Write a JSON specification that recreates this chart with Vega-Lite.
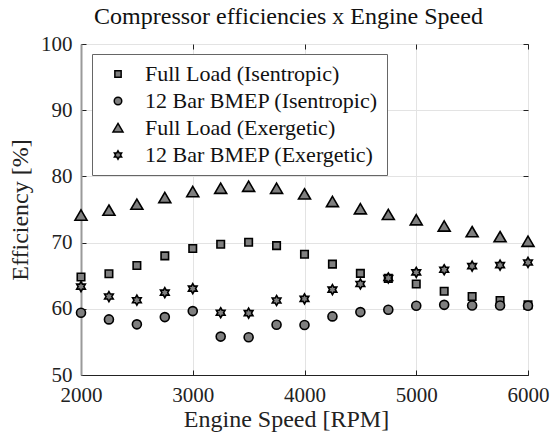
{
  "$schema": "https://vega.github.io/schema/vega-lite/v6.json",
  "autosize": {"type": "none"},
  "width": 447,
  "height": 331,
  "padding": {"left": 81, "top": 44, "right": 22, "bottom": 60},
  "background": "white",
  "title": {
    "text": "Compressor efficiencies x Engine Speed",
    "font": "Liberation Serif",
    "fontSize": 24,
    "fontWeight": "normal",
    "color": "#111",
    "anchor": "middle",
    "offset": 4,
    "dx": -16
  },
  "config": {
    "view": {"stroke": "#222", "strokeWidth": 1},
    "axis": {
      "labelFont": "Liberation Serif",
      "labelFontSize": 21,
      "labelColor": "#222",
      "titleFont": "Liberation Serif",
      "titleFontSize": 24,
      "titleFontWeight": "normal",
      "titleColor": "#222",
      "gridColor": "#e3e3e3",
      "gridWidth": 1,
      "domainColor": "#222",
      "tickColor": "#222",
      "tickSize": -5,
      "labelFlush": false
    }
  },
  "data": {
    "values": [
      {"rpm": 2000, "eff": 64.8, "series": "Full Load (Isentropic)"},
      {"rpm": 2250, "eff": 65.3, "series": "Full Load (Isentropic)"},
      {"rpm": 2500, "eff": 66.55, "series": "Full Load (Isentropic)"},
      {"rpm": 2750, "eff": 68.0, "series": "Full Load (Isentropic)"},
      {"rpm": 3000, "eff": 69.1, "series": "Full Load (Isentropic)"},
      {"rpm": 3250, "eff": 69.75, "series": "Full Load (Isentropic)"},
      {"rpm": 3500, "eff": 70.05, "series": "Full Load (Isentropic)"},
      {"rpm": 3750, "eff": 69.55, "series": "Full Load (Isentropic)"},
      {"rpm": 4000, "eff": 68.25, "series": "Full Load (Isentropic)"},
      {"rpm": 4250, "eff": 66.75, "series": "Full Load (Isentropic)"},
      {"rpm": 4500, "eff": 65.35, "series": "Full Load (Isentropic)"},
      {"rpm": 4750, "eff": 64.6, "series": "Full Load (Isentropic)"},
      {"rpm": 5000, "eff": 63.75, "series": "Full Load (Isentropic)"},
      {"rpm": 5250, "eff": 62.65, "series": "Full Load (Isentropic)"},
      {"rpm": 5500, "eff": 61.85, "series": "Full Load (Isentropic)"},
      {"rpm": 5750, "eff": 61.25, "series": "Full Load (Isentropic)"},
      {"rpm": 6000, "eff": 60.6, "series": "Full Load (Isentropic)"},

      {"rpm": 2000, "eff": 59.4, "series": "12 Bar BMEP (Isentropic)"},
      {"rpm": 2250, "eff": 58.4, "series": "12 Bar BMEP (Isentropic)"},
      {"rpm": 2500, "eff": 57.65, "series": "12 Bar BMEP (Isentropic)"},
      {"rpm": 2750, "eff": 58.75, "series": "12 Bar BMEP (Isentropic)"},
      {"rpm": 3000, "eff": 59.65, "series": "12 Bar BMEP (Isentropic)"},
      {"rpm": 3250, "eff": 55.8, "series": "12 Bar BMEP (Isentropic)"},
      {"rpm": 3500, "eff": 55.7, "series": "12 Bar BMEP (Isentropic)"},
      {"rpm": 3750, "eff": 57.6, "series": "12 Bar BMEP (Isentropic)"},
      {"rpm": 4000, "eff": 57.55, "series": "12 Bar BMEP (Isentropic)"},
      {"rpm": 4250, "eff": 58.85, "series": "12 Bar BMEP (Isentropic)"},
      {"rpm": 4500, "eff": 59.5, "series": "12 Bar BMEP (Isentropic)"},
      {"rpm": 4750, "eff": 59.85, "series": "12 Bar BMEP (Isentropic)"},
      {"rpm": 5000, "eff": 60.45, "series": "12 Bar BMEP (Isentropic)"},
      {"rpm": 5250, "eff": 60.6, "series": "12 Bar BMEP (Isentropic)"},
      {"rpm": 5500, "eff": 60.5, "series": "12 Bar BMEP (Isentropic)"},
      {"rpm": 5750, "eff": 60.5, "series": "12 Bar BMEP (Isentropic)"},
      {"rpm": 6000, "eff": 60.45, "series": "12 Bar BMEP (Isentropic)"},

      {"rpm": 2000, "eff": 74.1, "series": "Full Load (Exergetic)"},
      {"rpm": 2250, "eff": 74.85, "series": "Full Load (Exergetic)"},
      {"rpm": 2500, "eff": 75.75, "series": "Full Load (Exergetic)"},
      {"rpm": 2750, "eff": 76.75, "series": "Full Load (Exergetic)"},
      {"rpm": 3000, "eff": 77.65, "series": "Full Load (Exergetic)"},
      {"rpm": 3250, "eff": 78.15, "series": "Full Load (Exergetic)"},
      {"rpm": 3500, "eff": 78.45, "series": "Full Load (Exergetic)"},
      {"rpm": 3750, "eff": 78.15, "series": "Full Load (Exergetic)"},
      {"rpm": 4000, "eff": 77.3, "series": "Full Load (Exergetic)"},
      {"rpm": 4250, "eff": 76.15, "series": "Full Load (Exergetic)"},
      {"rpm": 4500, "eff": 75.05, "series": "Full Load (Exergetic)"},
      {"rpm": 4750, "eff": 74.2, "series": "Full Load (Exergetic)"},
      {"rpm": 5000, "eff": 73.4, "series": "Full Load (Exergetic)"},
      {"rpm": 5250, "eff": 72.45, "series": "Full Load (Exergetic)"},
      {"rpm": 5500, "eff": 71.6, "series": "Full Load (Exergetic)"},
      {"rpm": 5750, "eff": 70.85, "series": "Full Load (Exergetic)"},
      {"rpm": 6000, "eff": 70.15, "series": "Full Load (Exergetic)"},

      {"rpm": 2000, "eff": 63.35, "series": "12 Bar BMEP (Exergetic)"},
      {"rpm": 2250, "eff": 61.85, "series": "12 Bar BMEP (Exergetic)"},
      {"rpm": 2500, "eff": 61.3, "series": "12 Bar BMEP (Exergetic)"},
      {"rpm": 2750, "eff": 62.45, "series": "12 Bar BMEP (Exergetic)"},
      {"rpm": 3000, "eff": 63.05, "series": "12 Bar BMEP (Exergetic)"},
      {"rpm": 3250, "eff": 59.4, "series": "12 Bar BMEP (Exergetic)"},
      {"rpm": 3500, "eff": 59.35, "series": "12 Bar BMEP (Exergetic)"},
      {"rpm": 3750, "eff": 61.25, "series": "12 Bar BMEP (Exergetic)"},
      {"rpm": 4000, "eff": 61.5, "series": "12 Bar BMEP (Exergetic)"},
      {"rpm": 4250, "eff": 62.9, "series": "12 Bar BMEP (Exergetic)"},
      {"rpm": 4500, "eff": 63.75, "series": "12 Bar BMEP (Exergetic)"},
      {"rpm": 4750, "eff": 64.65, "series": "12 Bar BMEP (Exergetic)"},
      {"rpm": 5000, "eff": 65.5, "series": "12 Bar BMEP (Exergetic)"},
      {"rpm": 5250, "eff": 65.9, "series": "12 Bar BMEP (Exergetic)"},
      {"rpm": 5500, "eff": 66.45, "series": "12 Bar BMEP (Exergetic)"},
      {"rpm": 5750, "eff": 66.6, "series": "12 Bar BMEP (Exergetic)"},
      {"rpm": 6000, "eff": 67.0, "series": "12 Bar BMEP (Exergetic)"}
    ]
  },
  "resolve": {"axis": {"x": "independent", "y": "independent"}},
  "layer": [
    {
      "mark": {
        "type": "point",
        "filled": true,
        "fill": "#7f7f7f",
        "stroke": "#000",
        "strokeWidth": 1.6,
        "opacity": 1,
        "size": 100
      },
      "encoding": {
        "x": {
          "field": "rpm",
          "type": "quantitative",
          "scale": {"domain": [2000, 6000], "nice": false},
          "axis": {
            "title": "Engine Speed [RPM]",
            "values": [2000, 3000, 4000, 5000, 6000],
            "format": "d",
            "labelPadding": 14,
            "titlePadding": 2,
            "titleX": 205
          }
        },
        "y": {
          "field": "eff",
          "type": "quantitative",
          "scale": {"domain": [50, 100], "nice": false},
          "axis": {
            "title": "Efficiency [%]",
            "values": [50, 60, 70, 80, 90, 100],
            "labelPadding": 14,
            "titlePadding": 8,
            "domainColor": "#9a9a9a",
            "domainWidth": 2
          }
        },
        "shape": {
          "field": "series",
          "type": "nominal",
          "scale": {
            "domain": ["Full Load (Isentropic)", "12 Bar BMEP (Isentropic)", "Full Load (Exergetic)", "12 Bar BMEP (Exergetic)"],
            "range": [
              "M-0.75,-0.75H0.75V0.75H-0.75Z",
              "M0.9,0A0.9,0.9,0,1,1,-0.9,0A0.9,0.9,0,1,1,0.9,0Z",
              "M0,-1.1L1.2,0.95L-1.2,0.95Z",
              "M0,-1L0.2887,-0.5L0.866,-0.5L0.5774,0L0.866,0.5L0.2887,0.5L0,1L-0.2887,0.5L-0.866,0.5L-0.5774,0L-0.866,-0.5L-0.2887,-0.5Z"
            ]
          },
          "legend": {
            "title": null,
            "orient": "none",
            "legendX": 11,
            "legendY": 10,
            "labelFont": "Liberation Serif",
            "labelFontSize": 22,
            "labelColor": "#111",
            "labelLimit": 400,
            "symbolSize": 70,
            "symbolOffset": 6,
            "rowPadding": 5,
            "labelOffset": 16,
            "padding": 9,
            "strokeColor": "#666",
            "fillColor": "white",
            "encode": {
              "symbols": {
                "fill": {"value": "#7f7f7f"},
                "stroke": {"value": "#000"},
                "strokeWidth": {"value": 1.6},
                "opacity": {"value": 1}
              }
            }
          }
        }
      }
    },
    {
      "mark": {"type": "point", "opacity": 0},
      "encoding": {
        "x": {
          "field": "rpm",
          "type": "quantitative",
          "axis": {
            "orient": "top",
            "title": null,
            "labels": false,
            "grid": false,
            "domain": false,
            "values": [2000, 3000, 4000, 5000, 6000]
          }
        },
        "y": {
          "field": "eff",
          "type": "quantitative",
          "axis": {
            "orient": "right",
            "title": null,
            "labels": false,
            "grid": false,
            "domain": false,
            "values": [50, 60, 70, 80, 90, 100]
          }
        }
      }
    }
  ]
}
